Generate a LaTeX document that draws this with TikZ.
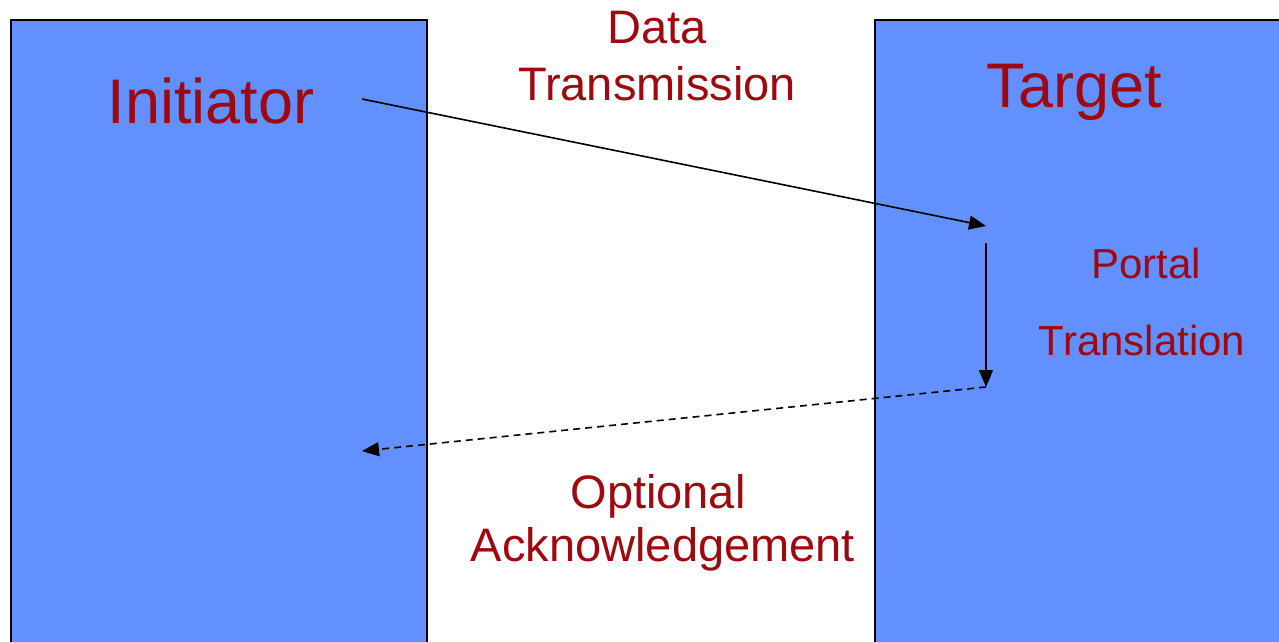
\documentclass[tikz,border=0pt]{standalone}
\usepackage{fontspec}
\setmainfont{Liberation Sans}
\usetikzlibrary{arrows.meta}
\definecolor{panelblue}{RGB}{98,144,255}
\definecolor{labelred}{RGB}{158,8,14}
\tikzset{
  panel/.style={draw=black, line width=2pt, fill=panelblue},
  bigtitle/.style={anchor=base, text=labelred, inner sep=0pt, font=\fontsize{63}{63}\selectfont},
  caption/.style={anchor=base, text=labelred, inner sep=0pt, align=center, font=\fontsize{47}{57}\selectfont},
  smallcap/.style={anchor=base, text=labelred, inner sep=0pt, font=\fontsize{42}{42}\selectfont},
  flow/.style={line width=1.6pt, -{Triangle[length=17pt,width=14pt]}},
  ackflow/.style={flow, dash pattern=on 7pt off 5pt}
}
\begin{document}
\begin{tikzpicture}[x=1pt, y=-1pt]
  \useasboundingbox (0,0) rectangle (1279,641);
  \clip (0,0) rectangle (1279,641);

  % the two endpoints
  \node[panel, minimum width=416pt, minimum height=700pt, anchor=north west] (initiator) at (10,19) {};
  \node[panel, minimum width=500pt, minimum height=700pt, anchor=north west] (target) at (874,19) {};

  % titles
  \node[bigtitle] (initlabel) at (211,123) {Initiator};
  \node[bigtitle] (targetlabel) at (1074,107) {Target};

  % captions between the panels
  \node[caption] (datalabel) at (657,43) {Data};
  \node[caption] (translabel) at (657,100) {Transmission};
  \node[caption] (optlabel) at (658,508) {Optional};
  \node[caption] (acklabel) at (663,561) {Acknowledgement};

  % step inside the target
  \node[smallcap] (portallabel) at (1146,278) {Portal};
  \node[smallcap] (translationlabel) at (1142,355) {Translation};

  % connector end points
  \coordinate (sendstart) at (362,99);
  \coordinate (sendend) at (986,226);
  \coordinate (portalstart) at (986,243);
  \coordinate (portalend) at (986,387);
  \coordinate (ackend) at (362,451);

  \draw[flow] (sendstart) -- (sendend);
  \draw[flow] (portalstart) -- (portalend);
  \draw[ackflow] (portalend) -- (ackend);
\end{tikzpicture}
\end{document}
